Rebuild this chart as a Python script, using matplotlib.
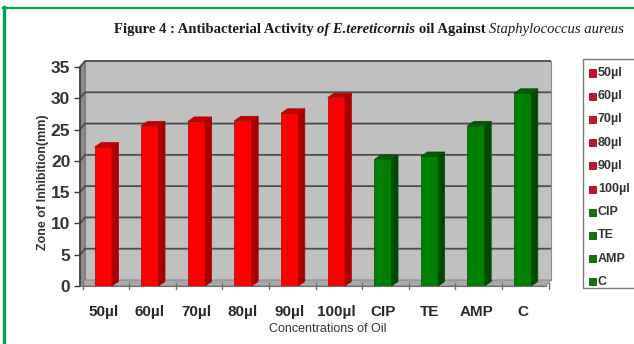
import matplotlib
matplotlib.use("Agg")
import matplotlib.pyplot as plt
from matplotlib.patches import Polygon, Rectangle
from matplotlib.lines import Line2D

categories = ["50µl", "60µl", "70µl", "80µl", "90µl", "100µl", "CIP", "TE", "AMP", "C"]
zone_mm = [22.2, 25.6, 26.3, 26.4, 27.6, 30.1, 20.2, 20.7, 25.6, 30.8]
groups = ["oil"] * 6 + ["antibiotic"] * 4
y_ticks = [0, 5, 10, 15, 20, 25, 30, 35]

FACE = {"oil": ("#ff0000", "#a80000", "#c80000"),
        "antibiotic": ("#008000", "#004a00", "#006000")}

W, H = 634, 344
fig = plt.figure(figsize=(W / 100, H / 100), dpi=100)
fig.patch.set_facecolor("white")


def fx(px):
    return px / W


def fy(py):
    return 1 - py / H


# green frame
fig.add_artist(Line2D([fx(4), fx(4)], [fy(7), fy(344)], color="#00a651", lw=2.4))
fig.add_artist(Line2D([fx(3), fx(634)], [fy(7.5), fy(7.5)], color="#00a651", lw=1.6))

# axes: front plane of the 3-D box
ax_l, ax_r, ax_b, ax_t = 80, 546, 286, 67
ax = fig.add_axes([fx(ax_l), fy(ax_b), fx(ax_r - ax_l), (ax_b - ax_t) / H])
ax.set_xlim(-0.5, len(categories) - 0.5)
ax.set_ylim(0, 35)
ax.patch.set_visible(False)
for s in ax.spines.values():
    s.set_visible(False)

xpu = (ax_r - ax_l) / len(categories)   # pixels per category
ypu = (ax_b - ax_t) / 35.0              # pixels per mm

# depth of the box and of the columns, in data units
wdx, wdy = 5 / xpu, 6 / ypu
bdx, bdy = 6.5 / xpu, 4.5 / ypu

x0, x1 = -0.5, len(categories) - 0.5

# back wall
ax.add_patch(Polygon([(x0 + wdx, wdy), (x1 + wdx, wdy), (x1 + wdx, 35 + wdy), (x0 + wdx, 35 + wdy)],
                     closed=True, facecolor="#c0c0c0", edgecolor="#8a8a8a", lw=0.8, zorder=1,
                     clip_on=False))
# side wall
ax.add_patch(Polygon([(x0, 0), (x0 + wdx, wdy), (x0 + wdx, 35 + wdy), (x0, 35)],
                     closed=True, facecolor="#8c8c8c", edgecolor="#707070", lw=0.6, zorder=1,
                     clip_on=False))
# floor
ax.add_patch(Polygon([(x0, 0), (x1, 0), (x1 + wdx, wdy), (x0 + wdx, wdy)],
                     closed=True, facecolor="#a8a8a8", edgecolor="#808080", lw=0.6, zorder=1,
                     clip_on=False))

# gridlines on the walls
for yv in y_ticks[1:]:
    ax.plot([x0, x0 + wdx, x1 + wdx], [yv, yv + wdy, yv + wdy], color="#4d4d4d", lw=1.3,
            zorder=2, clip_on=False, solid_capstyle="butt")

# front axis line
ax.plot([x0, x0], [0, 35], color="#3a3a3a", lw=1.2, zorder=2, clip_on=False)
ax.plot([x0, x1], [0, 0], color="#707070", lw=0.8, zorder=2, clip_on=False)

# columns
bw = 0.37
for i, (v, g) in enumerate(zip(zone_mm, groups)):
    front, side, top = FACE[g]
    ax.bar(i, v, width=bw, color=front, edgecolor=side, linewidth=0.5, zorder=4)
    r = i + bw / 2
    l = i - bw / 2
    ax.add_patch(Polygon([(r, 0), (r + bdx, bdy), (r + bdx, v + bdy), (r, v)], closed=True,
                         facecolor=side, edgecolor=side, lw=0.5, zorder=4, clip_on=False))
    ax.add_patch(Polygon([(l, v), (r, v), (r + bdx, v + bdy), (l + bdx, v + bdy)], closed=True,
                         facecolor=top, edgecolor=side, lw=0.5, zorder=4, clip_on=False))

# category boundary ticks on the floor edge
for b in range(len(categories) + 1):
    ax.plot([b - 0.5 + wdx * 0.5, b - 0.5 + wdx * 0.5], [wdy * 0.5, -0.45], color="#707070",
            lw=1.0, zorder=3, clip_on=False)

ax.set_yticks(y_ticks)
ax.set_yticklabels([str(t) for t in y_ticks])
ax.tick_params(axis="y", length=4, width=1.0, color="#3a3a3a", pad=3,
               labelsize=12.5, labelcolor="#333333")
for t in ax.get_yticklabels():
    t.set_fontfamily("Liberation Sans")
    t.set_fontweight("bold")

ax.set_xticks(range(len(categories)))
ax.set_xticklabels(categories)
ax.tick_params(axis="x", length=0, pad=14, labelsize=11, labelcolor="#2a2a2a")
for t in ax.get_xticklabels():
    t.set_fontfamily("Liberation Sans")
    t.set_fontweight("bold")

fig.text(fx(328), fy(329), "Concentrations of Oil", ha="center", va="center",
         fontsize=9, color="#333333", family="Liberation Sans")
fig.text(fx(43), fy(182), "Zone of Inhibition(mm)", ha="center", va="center", rotation=90,
         fontsize=9, color="#333333", family="Liberation Sans", fontweight="bold")

# title made of bold and italic runs
title_runs = [
    ("Figure 4 : Antibacterial Activity ", "normal", "bold"),
    ("of E.tereticornis ", "italic", "bold"),
    ("oil Against ", "normal", "bold"),
    ("Staphylococcus aureus", "italic", "normal"),
]
renderer = fig.canvas.get_renderer()
xpos = 114
for txt, style, weight in title_runs:
    t = fig.text(fx(xpos), fy(29), txt, ha="left", va="center", fontsize=10.5,
                 family="Liberation Serif", style=style, fontweight=weight, color="#1a1a1a")
    bb = t.get_window_extent(renderer)
    xpos += bb.width

# legend box
lg_l, lg_t, lg_b = 583, 59, 288
fig.add_artist(Rectangle((fx(lg_l), fy(lg_b)), fx(W + 5 - lg_l), (lg_b - lg_t) / H,
                         transform=fig.transFigure, facecolor="white", edgecolor="#7a7a7a",
                         lw=1.0, zorder=5))
leg_colors = {"oil": ("#c8102e", "#7a0000"), "antibiotic": ("#0a7a0a", "#003a00")}
for k, (name, g) in enumerate(zip(categories, groups)):
    yc = 73 + k * 23.2
    fc, ec = leg_colors[g]
    fig.add_artist(Rectangle((fx(589), fy(yc + 3.5)), fx(7), 7 / H, transform=fig.transFigure,
                             facecolor=fc, edgecolor=ec, lw=0.5, zorder=6))
    fig.text(fx(598), fy(yc), name, ha="left", va="center", fontsize=9, color="#333333",
             family="Liberation Sans", fontweight="bold", zorder=6)

fig.savefig("out.png", dpi=100)
